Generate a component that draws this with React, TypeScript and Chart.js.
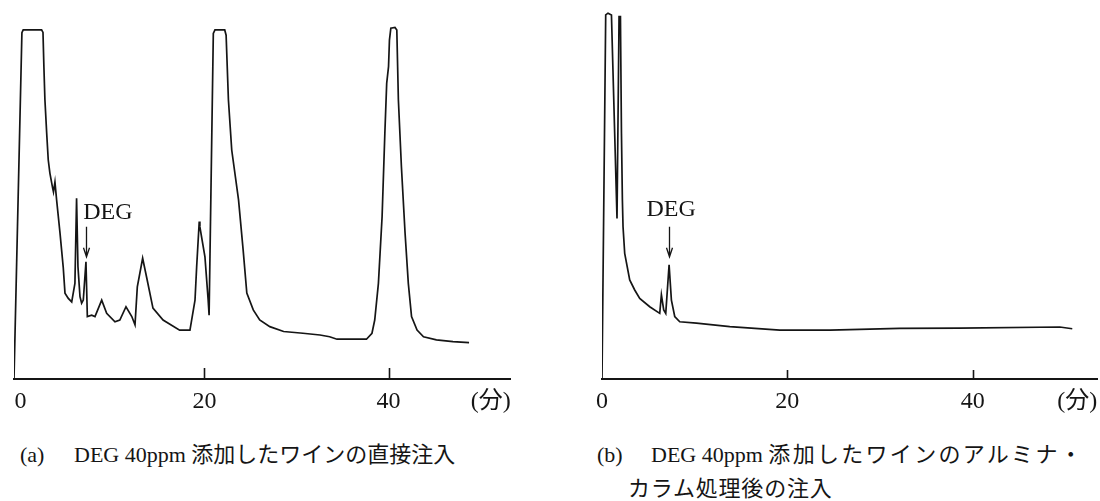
import React, { useEffect, useRef } from "react";
import { Chart, registerables } from "chart.js";

Chart.register(...registerables);

// ---- data -------------------------------------------------------------
const TICK_VALUES = [0, 20, 40];
const UNIT_LABEL = "(分)";
const PEAK_LABEL = "DEG";

// (a) direct injection — retention time (min) / detector signal (relative)
const A_TIME = [
  -0.7, 0.16, 0.3, 2.3, 2.45, 2.55, 2.66, 2.85, 3.02, 3.2, 3.5, 3.59, 3.75, 3.93,
  4.3, 4.65, 4.84, 5.2, 5.57, 5.92, 6.1, 6.25, 6.47, 6.65, 6.83, 7.12, 7.27, 7.74,
  8.1, 8.83, 9.37, 10.27, 10.8, 11.47, 12.1, 12.45, 12.7, 13.28, 13.7, 14.4, 15.5,
  17.3, 18.42, 18.97, 19.15, 19.43, 19.5, 20.05, 20.4, 20.5, 20.96, 21.14, 22.2,
  22.35, 22.6, 22.96, 23.7, 24.2, 24.6, 25.3, 26.0, 27.1, 28.6, 30.7, 32.55, 33.6,
  34.4, 37.6, 38.2, 38.5, 38.9, 39.3, 39.6, 39.8, 40.0, 40.1, 40.25, 40.7, 40.9,
  41.07, 41.4, 41.8, 42.15, 42.5, 43.1, 43.8, 45.2, 47.0, 48.75,
];
const A_SIGNAL = [
  0, 99.2, 100, 100, 99.3, 89.4, 80, 70.5, 62.8, 59, 54.7, 53.6, 56.4, 51.3,
  41.8, 32, 24.6, 23.1, 22.1, 27.4, 51.8, 32.2, 23.6, 21.7, 22.6, 33.6, 17.9, 18.3,
  17.9, 22.6, 18.8, 16.4, 16.9, 20.7, 17.9, 15.5, 26.4, 34.6, 29.3, 20.3, 16.9,
  14, 14, 22.6, 32.2, 45.1, 43.6, 35, 22.6, 18.3, 99, 100, 100,
  98.5, 80, 65.6, 51.3, 37, 24.6, 19.8, 16.9, 15, 13.6, 13.1, 12.6, 12.1,
  11.4, 11.4, 13.1, 16.9, 27.4, 46.5, 70.4, 84.7, 89.5, 97.1, 100.5, 100.7, 100,
  80, 60.8, 41.7, 27.4, 17.9, 14, 12.1, 11.2, 10.7, 10.4,
];

// (b) after alumina column treatment
const B_TIME = [
  0, 0.4, 0.65, 1.02, 1.62, 1.84, 1.99, 2.1, 2.2, 2.27, 2.45, 2.99, 3.53, 4.07,
  5.15, 6.23, 6.41, 6.66, 6.88, 7.24, 7.49, 7.85, 8.39, 10.19, 13.79, 19.19, 24.6,
  32.1, 38.6, 49.4, 50.75,
];
const B_SIGNAL = [
  0, 104.3, 104.8, 104.3, 46, 103.8, 103.8, 70.4, 51.3, 43.6, 36, 28.4, 25.5, 23.1,
  20.7, 18.8, 24.1, 19.8, 18.8, 32.7, 22.6, 17.9, 16.4, 16, 15, 14, 14,
  14.5, 14.6, 14.9, 14.4,
];

const CAPTION_A_TAG = "(a)";
const CAPTION_A = "DEG 40ppm 添加したワインの直接注入";
const CAPTION_B_TAG = "(b)";
const CAPTION_B1_LATIN = "DEG 40ppm ";
const CAPTION_B1_CJK = "添加したワインのアルミナ・";
const CAPTION_B2 = "カラム処理後の注入";

// ---- styling ----------------------------------------------------------
const INK = "#151515";
const FONT_FAMILY = '"Liberation Serif", "Noto Sans CJK JP", serif';
const AXIS_Y = 379; // pixel row of the time axis in the page

const overlayPlugin = {
  id: "overlay",
  afterDatasetsDraw(chart: any, _args: any, opts: any) {
    const { ctx, chartArea } = chart;
    const xs = chart.scales.x;
    const ys = chart.scales.y;
    ctx.save();
    ctx.strokeStyle = INK;
    ctx.lineWidth = 1.6;
    for (const v of TICK_VALUES) {
      if (v === 0) continue;
      const px = Math.round(xs.getPixelForValue(v)) + 0.5;
      ctx.beginPath();
      ctx.moveTo(px, chartArea.bottom);
      ctx.lineTo(px, chartArea.bottom - opts.tickLen);
      ctx.stroke();
    }
    ctx.fillStyle = INK;
    ctx.font = `24px ${FONT_FAMILY}`;
    ctx.textAlign = "left";
    ctx.textBaseline = "middle";
    ctx.fillText(
      PEAK_LABEL,
      xs.getPixelForValue(opts.degText[0]),
      ys.getPixelForValue(opts.degText[1])
    );
    const ax = Math.round(xs.getPixelForValue(opts.arrow[0])) + 0.5;
    const at = ys.getPixelForValue(opts.arrow[1]);
    const ab = ys.getPixelForValue(opts.arrow[2]);
    ctx.lineWidth = 1.3;
    ctx.beginPath();
    ctx.moveTo(ax, at);
    ctx.lineTo(ax, ab);
    ctx.moveTo(ax - 3, ab - 9);
    ctx.lineTo(ax, ab);
    ctx.lineTo(ax + 3, ab - 9);
    ctx.stroke();
    ctx.restore();
  },
};

type Props = {
  time: number[];
  signal: number[];
  xMin: number;
  xMax: number;
  unitAt: number;
  pad: { left: number; right: number; top: number; bottom: number };
  tickLen: number;
  degText: [number, number];
  arrow: [number, number, number];
  left: number;
  width: number;
  height: number;
};

function Chromatogram(p: Props) {
  const ref = useRef<HTMLCanvasElement | null>(null);
  useEffect(() => {
    if (!ref.current) return;
    const points = p.time.map((t, i) => ({ x: t, y: p.signal[i] }));
    const chart = new Chart(ref.current, {
      type: "line",
      data: {
        datasets: [
          {
            data: points,
            borderColor: INK,
            borderWidth: 1.7,
            pointRadius: 0,
            tension: 0,
            fill: false,
          },
        ],
      },
      options: {
        responsive: false,
        animation: false,
        events: [],
        layout: { padding: { ...p.pad } },
        plugins: {
          legend: { display: false },
          tooltip: { enabled: false },
          overlay: { tickLen: p.tickLen, degText: p.degText, arrow: p.arrow },
        } as any,
        scales: {
          x: {
            type: "linear",
            min: p.xMin,
            max: p.xMax,
            afterBuildTicks: (scale: any) => {
              scale.ticks = [...TICK_VALUES, p.unitAt].map((v) => ({ value: v }));
            },
            ticks: {
              autoSkip: false,
              maxRotation: 0,
              padding: 8,
              color: INK,
              font: { family: FONT_FAMILY, size: 24 },
              callback: (v: any) => (v === p.unitAt ? UNIT_LABEL : String(v)),
            },
            grid: { display: false, drawTicks: false },
            border: { display: true, color: INK, width: 2 },
          },
          y: { display: false, min: 0, max: 106 },
        },
      },
      plugins: [overlayPlugin],
    });
    // align the plotting area's bottom edge with the axis row of the reference
    const diff = chart.chartArea.bottom - AXIS_Y;
    if (Math.abs(diff) > 0.1) {
      (chart.options.layout as any).padding.bottom = p.pad.bottom + diff;
      chart.update();
    }
    return () => chart.destroy();
  }, []);
  return (
    <canvas
      ref={ref}
      width={p.width}
      height={p.height}
      style={{ position: "absolute", left: p.left, top: 0, width: p.width, height: p.height }}
    />
  );
}

const captionStyle: React.CSSProperties = {
  position: "absolute",
  fontFamily: FONT_FAMILY,
  fontSize: 22,
  lineHeight: "26px",
  color: INK,
  whiteSpace: "pre",
};

export default function App() {
  return (
    <div
      style={{
        position: "absolute",
        left: 0,
        top: 0,
        width: 1100,
        height: 501,
        overflow: "hidden",
        background: "#fff",
      }}
    >
      <Chromatogram
        time={A_TIME}
        signal={A_SIGNAL}
        xMin={-0.7}
        xMax={53.2}
        unitAt={51.1}
        pad={{ left: 14, right: 40, top: 9, bottom: 10 }}
        tickLen={11}
        degText={[6.83, 47.5]}
        arrow={[7.12, 43.6, 35.0]}
        left={0}
        width={550}
        height={440}
      />
      <Chromatogram
        time={B_TIME}
        signal={B_SIGNAL}
        xMin={0}
        xMax={53.42}
        unitAt={51.3}
        pad={{ left: 42, right: 12, top: 9, bottom: 10 }}
        tickLen={9}
        degText={[4.79, 48.4]}
        arrow={[7.24, 43.6, 35.0]}
        left={560}
        width={549}
        height={440}
      />
      <span style={{ ...captionStyle, left: 20, top: 442 }}>{CAPTION_A_TAG}</span>
      <span style={{ ...captionStyle, left: 74, top: 442 }}>{CAPTION_A}</span>
      <span style={{ ...captionStyle, left: 597, top: 442 }}>{CAPTION_B_TAG}</span>
      <span style={{ ...captionStyle, left: 651, top: 442 }}>
        {CAPTION_B1_LATIN}
        <span style={{ letterSpacing: "2.3px" }}>{CAPTION_B1_CJK}</span>
      </span>
      <span style={{ ...captionStyle, left: 628, top: 476, letterSpacing: "0.8px" }}>
        {CAPTION_B2}
      </span>
    </div>
  );
}
